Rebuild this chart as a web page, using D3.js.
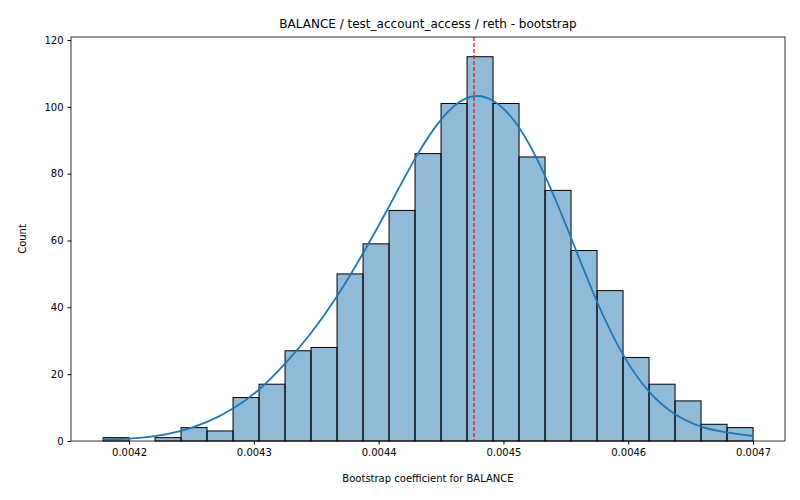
<!DOCTYPE html>
<html><head><meta charset="utf-8">
<script src="https://cdn.jsdelivr.net/npm/d3@7"></script>
<style>body{margin:0;background:#fff}text{font-family:"DejaVu Sans",sans-serif}</style>
</head><body><svg id="chart" width="800" height="500"></svg>
<script>
// histogram counts, bins from binStart with width binWidth
const binStart = 0.00417917
const binWidth = 0.0000208333
const counts = [1, 0, 1, 4, 3, 13, 17, 27, 28, 50, 59, 69, 86, 101, 115, 101, 85, 75, 57, 45, 25, 17, 12, 5, 4]
// kde estimate read at bin edges
const kde = [0.5, 0.6, 1.3, 2.8, 5.5, 9.5, 15, 23, 32, 43, 56, 70, 85, 97, 104, 103, 95, 80, 61, 41, 25, 14, 7.5, 4, 2.5, 1.5]
const xTicks = [0.0042, 0.0043, 0.0044, 0.0045, 0.0046, 0.0047]
const yTicks = [0, 20, 40, 60, 80, 100, 120]
const meanValue = 0.0044764

const m = { left: 71, right: 785, top: 37, bottom: 441 }
const svg = d3.select('#chart')
const x = d3.scaleLinear().domain([0.0041535, 0.0047256]).range([m.left, m.right])
const y = d3.scaleLinear().domain([0, 120.9]).range([m.bottom, m.top])

svg.append('g').selectAll('rect')
  .data(counts)
  .enter().append('rect')
  .attr('x', (d, i) => x(binStart + i * binWidth))
  .attr('width', x(binStart + binWidth) - x(binStart))
  .attr('y', d => y(d))
  .attr('height', d => y(0) - y(d))
  .attr('fill', 'rgba(31,119,180,0.5)')
  .attr('stroke', d => d > 0 ? '#000' : 'none')
  .attr('stroke-width', 1)

const line = d3.line()
  .x((d, i) => x(binStart + i * binWidth))
  .y(d => y(d))
  .curve(d3.curveBasis)
svg.append('path').datum(kde).attr('d', line)
  .attr('fill', 'none').attr('stroke', '#1f77b4').attr('stroke-width', 1.8)

svg.append('line')
  .attr('x1', x(meanValue)).attr('x2', x(meanValue))
  .attr('y1', m.top).attr('y2', m.bottom)
  .attr('stroke', 'red').attr('stroke-dasharray', '4,2').attr('stroke-width', 1.2)

svg.append('rect').attr('x', m.left).attr('y', m.top)
  .attr('width', m.right - m.left).attr('height', m.bottom - m.top)
  .attr('fill', 'none').attr('stroke', '#000').attr('stroke-width', 0.8)

const xAxis = svg.append('g').attr('transform', 'translate(0,' + m.bottom + ')')
  .call(d3.axisBottom(x).tickValues(xTicks).tickSize(3.5).tickPadding(4).tickFormat(d3.format('.4f')))
const yAxis = svg.append('g').attr('transform', 'translate(' + m.left + ',0)')
  .call(d3.axisLeft(y).tickValues(yTicks).tickSize(3.5).tickPadding(4))
for (const a of [xAxis, yAxis]) {
  a.select('.domain').remove()
  a.selectAll('text').attr('font-size', 10).attr('fill', '#000')
    .style('font-family', '"DejaVu Sans",sans-serif')
}

svg.append('text').attr('x', (m.left + m.right) / 2).attr('y', 28)
  .attr('text-anchor', 'middle').attr('font-size', 12).text('BALANCE / test_account_access / reth - bootstrap')
svg.append('text').attr('x', (m.left + m.right) / 2).attr('y', 482)
  .attr('text-anchor', 'middle').attr('font-size', 10).text('Bootstrap coefficient for BALANCE')
svg.append('text').attr('transform', 'translate(26,' + ((m.top + m.bottom) / 2) + ') rotate(-90)')
  .attr('text-anchor', 'middle').attr('font-size', 10).text('Count')
</script></body></html>
